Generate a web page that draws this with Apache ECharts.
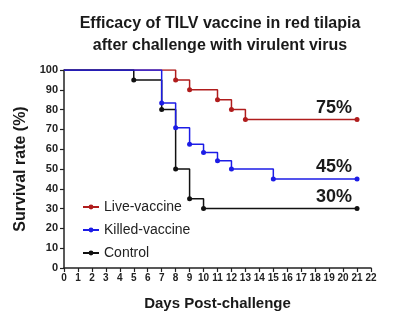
<!DOCTYPE html>
<html>
<head>
<meta charset="utf-8">
<script src="https://cdn.jsdelivr.net/npm/echarts@6/dist/echarts.min.js"></script>
<style>
  html, body { margin: 0; padding: 0; background: #fff; }
  #chart { width: 400px; height: 323px; }
</style>
</head>
<body>
<div id="chart"></div>
<script>
// Kaplan-Meier survival steps: day of each death event and survival (%) after it
const seriesNames = ['Live-vaccine', 'Killed-vaccine', 'Control'];

const liveDays = [0, 8, 9, 11, 12, 13, 21];
const liveSurvival = [100, 95, 90, 85, 80, 75, 75];

const killedDays = [0, 7, 8, 9, 10, 11, 12, 15, 21];
const killedSurvival = [100, 83.3, 70.8, 62.5, 58.3, 54.2, 50, 45, 45];

const controlDays = [0, 5, 7, 8, 9, 10, 21];
const controlSurvival = [100, 95, 80, 50, 35, 30, 30];

const xTicks = { min: 0, max: 22, interval: 1 };
const yTicks = { min: 0, max: 100, interval: 10 };

const colors = ['#b01c1c', '#1c1ce6', '#111111'];
const FONT = 'Arial, "Liberation Sans", Helvetica, sans-serif';

function buildData(days, values) {
  return days.map((d, i) => {
    const item = { value: [d, values[i]] };
    if (i === 0) item.symbol = 'none';
    if (i === days.length - 1) {
      item.label = {
        show: true,
        position: 'top',
        align: 'right',
        distance: 0,
        offset: [-5, 0],
        fontFamily: FONT,
        fontSize: 18,
        fontWeight: 'bold',
        color: '#1a1a1a',
        formatter: (p) => Math.round(p.value[1]) + '%'
      };
    }
    return item;
  });
}

function makeSeries(name, days, values, color, z) {
  return {
    name: name,
    type: 'line',
    step: 'end',
    data: buildData(days, values),
    symbol: 'circle',
    symbolSize: 5,
    showAllSymbol: true,
    z: z,
    itemStyle: { color: color },
    lineStyle: { color: color, width: 1.5 },
    emphasis: { disabled: true },
    animation: false
  };
}

const chart = echarts.init(document.getElementById('chart'), null, { renderer: 'canvas' });

chart.setOption({
  backgroundColor: '#fff',
  animation: false,
  title: {
    text: 'Efficacy of TILV vaccine in red tilapia\nafter challenge with virulent virus',
    left: 215,
    top: 8,
    textAlign: 'center',
    textStyle: {
      fontFamily: FONT,
      fontSize: 16,
      fontWeight: 'bold',
      color: '#1a1a1a',
      lineHeight: 22
    }
  },
  legend: {
    orient: 'vertical',
    left: 77,
    top: 195,
    itemWidth: 16,
    itemHeight: 6,
    itemGap: 9,
    data: seriesNames,
    textStyle: { fontFamily: FONT, fontSize: 14, color: '#222', lineHeight: 14, height: 14 }
  },
  grid: {
    left: 64,
    right: 29,
    top: 70,
    bottom: 55,
    containLabel: false
  },
  xAxis: {
    type: 'value',
    min: xTicks.min,
    max: xTicks.max,
    interval: xTicks.interval,
    name: 'Days Post-challenge',
    nameLocation: 'middle',
    nameGap: 28,
    nameTextStyle: { fontFamily: FONT, fontSize: 15, fontWeight: 'bold', color: '#1a1a1a' },
    axisLine: { lineStyle: { color: '#222', width: 1.5 } },
    axisTick: { show: true, length: 4, lineStyle: { color: '#222', width: 1.2 } },
    axisLabel: { fontFamily: FONT, fontSize: 10, fontWeight: 'bold', color: '#222', margin: 5 },
    splitLine: { show: false }
  },
  yAxis: {
    type: 'value',
    min: yTicks.min,
    max: yTicks.max,
    interval: yTicks.interval,
    name: 'Survival rate (%)',
    nameLocation: 'middle',
    nameGap: 33,
    nameTextStyle: { fontFamily: FONT, fontSize: 16, fontWeight: 'bold', color: '#1a1a1a' },
    axisLine: { show: true, lineStyle: { color: '#222', width: 1.5 } },
    axisTick: { show: true, length: 4, lineStyle: { color: '#222', width: 1.2 } },
    axisLabel: { fontFamily: FONT, fontSize: 11, fontWeight: 'bold', color: '#222', margin: 6 },
    splitLine: { show: false }
  },
  series: [
    makeSeries(seriesNames[0], liveDays, liveSurvival, colors[0], 2),
    makeSeries(seriesNames[1], killedDays, killedSurvival, colors[1], 4),
    makeSeries(seriesNames[2], controlDays, controlSurvival, colors[2], 3)
  ]
});
</script>
</body>
</html>
